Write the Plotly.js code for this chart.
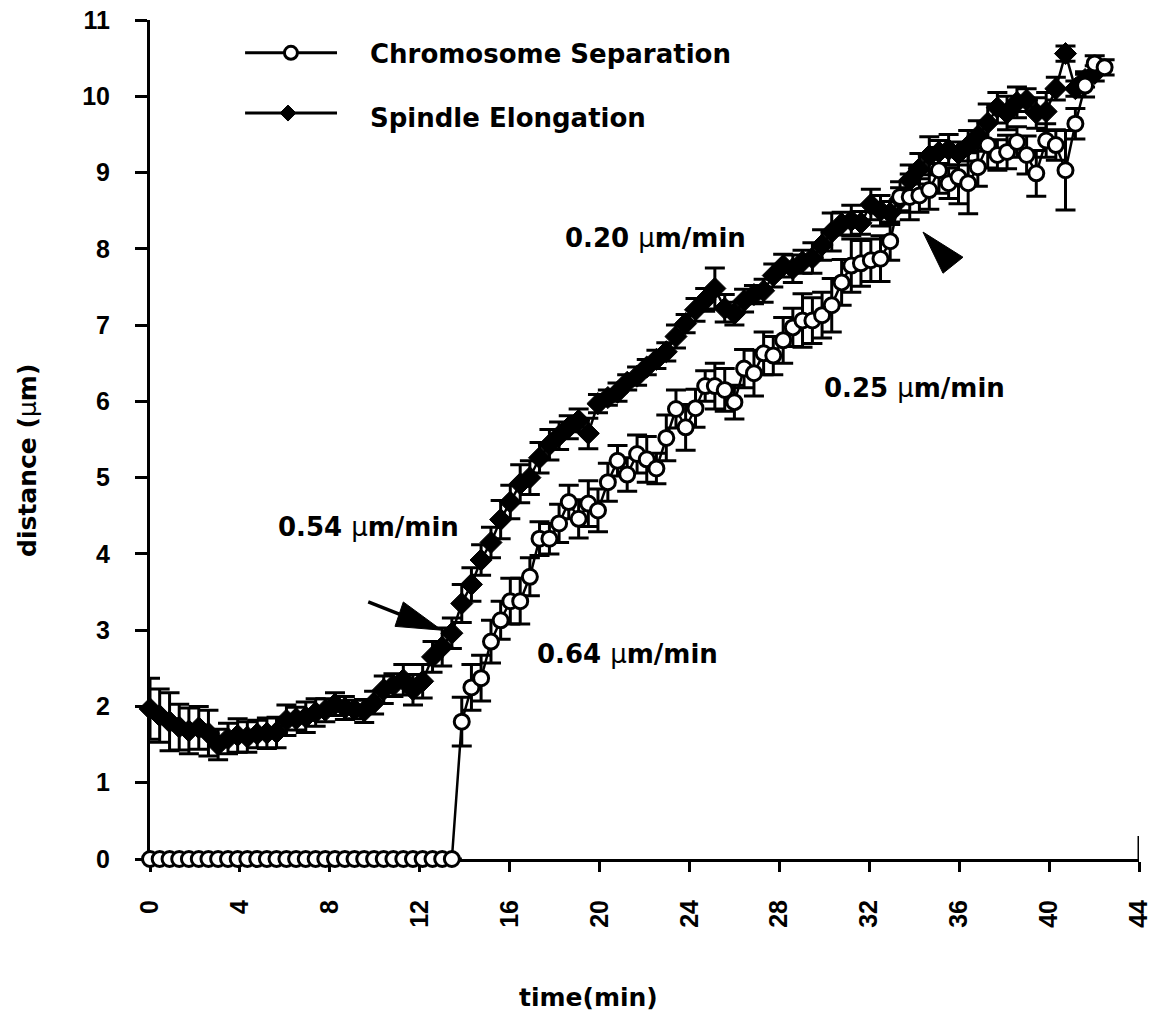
<!DOCTYPE html>
<html>
<head>
<meta charset="utf-8">
<script src="https://cdn.plot.ly/plotly-3.0.1.min.js"></script>
<style>html,body{margin:0;padding:0;background:#fff;}#chart{width:1156px;height:1016px;}</style>
</head>
<body>
<div id="chart"></div>
<script>
// time (min) of each frame
const time = [0,0.43,0.87,1.30,1.73,2.17,2.60,3.03,3.47,3.90,4.33,4.77,5.20,5.63,6.07,6.50,6.93,7.37,7.80,8.23,
  8.67,9.10,9.53,9.97,10.40,10.83,11.27,11.70,12.13,12.57,13.00,13.43,13.87,14.30,14.73,15.17,15.60,16.03,16.47,16.90,
  17.33,17.77,18.20,18.63,19.07,19.50,19.93,20.37,20.80,21.23,21.67,22.10,22.53,22.97,23.40,23.83,24.27,24.70,25.13,25.57,
  26.00,26.43,26.87,27.30,27.73,28.17,28.60,29.03,29.47,29.90,30.33,30.77,31.20,31.63,32.07,32.50,32.93,33.37,33.80,34.23,
  34.67,35.10,35.53,35.97,36.40,36.83,37.27,37.70,38.13,38.57,39.00,39.43,39.87,40.30,40.73,41.17,41.60,42.03,42.47];

// Chromosome separation (um)
const chromSep = [0,0,0,0,0,0,0,0,0,0,0,0,0,0,0,0,0,0,0,0,0,0,0,0,0,0,0,0,0,0,0,0,
  1.80,2.25,2.37,2.85,3.13,3.38,3.38,3.70,4.20,4.20,4.40,4.68,4.46,4.66,4.57,4.94,5.22,5.04,
  5.31,5.24,5.12,5.52,5.90,5.66,5.91,6.20,6.20,6.15,5.99,6.43,6.37,6.63,6.60,6.80,6.97,7.06,
  7.06,7.13,7.26,7.56,7.78,7.81,7.85,7.87,8.10,8.68,8.68,8.70,8.77,9.03,8.86,8.94,8.86,9.07,
  9.36,9.23,9.27,9.40,9.23,8.99,9.42,9.36,9.03,9.64,10.14,10.43,10.38];
const chromErr = [0,0,0,0,0,0,0,0,0,0,0,0,0,0,0,0,0,0,0,0,0,0,0,0,0,0,0,0,0,0,0,0,
  0.32,0.30,0.30,0.28,0.25,0.30,0.30,0.25,0.22,0.20,0.25,0.22,0.25,0.30,0.28,0.25,0.20,0.22,
  0.25,0.30,0.20,0.30,0.25,0.30,0.25,0.20,0.30,0.28,0.22,0.25,0.30,0.28,0.25,0.30,0.25,0.35,
  0.30,0.30,0.35,0.30,0.35,0.30,0.28,0.30,0.25,0.20,0.30,0.22,0.25,0.30,0.20,0.35,0.40,0.25,
  0.30,0.20,0.22,0.20,0.25,0.30,0.22,0.20,0.52,0.20,0.15,0.10,0.10];

// Spindle elongation (um)
const spindle = [1.97,1.88,1.80,1.73,1.68,1.72,1.65,1.50,1.58,1.62,1.60,1.64,1.65,1.66,1.82,1.84,1.86,1.92,1.95,2.03,
  1.98,1.96,1.94,2.05,2.22,2.28,2.35,2.22,2.33,2.65,2.78,2.96,3.35,3.60,3.92,4.15,4.45,4.68,4.92,5.00,
  5.26,5.43,5.55,5.66,5.75,5.58,5.97,6.05,6.12,6.25,6.33,6.45,6.55,6.65,6.85,7.02,7.20,7.33,7.48,7.22,
  7.15,7.32,7.40,7.45,7.65,7.78,7.74,7.83,7.88,8.05,8.22,8.33,8.37,8.34,8.58,8.50,8.47,8.65,8.90,9.05,
  9.22,9.27,9.30,9.25,9.35,9.48,9.65,9.85,9.78,9.92,9.95,9.78,9.80,10.10,10.56,10.10,10.22,10.30];
const spindleErr = [0.40,0.35,0.38,0.30,0.30,0.28,0.30,0.20,0.20,0.22,0.20,0.18,0.20,0.20,0.20,0.15,0.20,0.18,0.15,0.15,
  0.15,0.12,0.15,0.15,0.18,0.15,0.20,0.20,0.22,0.20,0.25,0.20,0.25,0.22,0.20,0.20,0.25,0.22,0.25,0.22,
  0.20,0.20,0.18,0.15,0.15,0.20,0.12,0.10,0.12,0.10,0.12,0.10,0.12,0.12,0.15,0.12,0.15,0.15,0.27,0.18,
  0.15,0.15,0.12,0.15,0.15,0.15,0.18,0.15,0.20,0.20,0.25,0.15,0.20,0.15,0.20,0.20,0.15,0.15,0.20,0.20,
  0.25,0.15,0.20,0.15,0.20,0.20,0.25,0.20,0.22,0.20,0.15,0.20,0.25,0.15,0.10,0.10,0.10,0.10];
const spindleTime = time.slice(0, spindle.length);

const seriesNames = ['Chromosome Separation', 'Spindle Elongation'];
const MU = '<span style="font-weight:normal">μ</span>';
const rateLabels = ['0.20 ' + MU + 'm/min', '0.25 ' + MU + 'm/min', '0.54 ' + MU + 'm/min', '0.64 ' + MU + 'm/min'];
const xTicks = [0,4,8,12,16,20,24,28,32,36,40,44];
const yTicks = [0,1,2,3,4,5,6,7,8,9,10,11];

const BOLD = {family: 'DejaVu Sans', size: 25, color: '#000', weight: 700};
const TICKF = {family: 'Liberation Sans, Arial', size: 25, color: '#000', weight: 700};

const traces = [
  {
    x: spindleTime, y: spindle, name: seriesNames[1], type: 'scatter', mode: 'lines+markers',
    line: {color: '#000', width: 2.5},
    marker: {symbol: 'diamond', size: 17, color: '#000', line: {color: '#000', width: 1}},
    error_y: {type: 'data', array: spindleErr, visible: true, color: '#000', thickness: 3, width: 10},
    cliponaxis: false, showlegend: false
  },
  {
    x: time, y: chromSep, name: seriesNames[0], type: 'scatter', mode: 'lines+markers',
    line: {color: '#000', width: 2.5},
    marker: {symbol: 'circle', size: 15, color: '#fff', line: {color: '#000', width: 3}},
    error_y: {type: 'data', array: chromErr, visible: true, color: '#000', thickness: 3, width: 10},
    cliponaxis: false, showlegend: false
  }
];

const layout = {
  width: 1156, height: 1016,
  margin: {l: 150, r: 17, t: 20, b: 157},
  paper_bgcolor: '#fff', plot_bgcolor: '#fff',
  showlegend: false,
  xaxis: {
    range: [0, 44], tickvals: xTicks, ticktext: xTicks.map(String), tickangle: -90,
    ticks: 'outside', ticklen: 10, tickwidth: 3, tickcolor: '#000', layer: 'below traces',
    showline: true, linecolor: '#000', linewidth: 3, showgrid: false, zeroline: false,
    tickfont: TICKF, ticklabelstandoff: 18
  },
  yaxis: {
    range: [0, 11], tickvals: yTicks, ticktext: yTicks.map(String),
    ticks: 'outside', ticklen: 12, tickwidth: 3, tickcolor: '#000', layer: 'below traces',
    showline: true, linecolor: '#000', linewidth: 3, showgrid: false, zeroline: false,
    tickfont: TICKF, ticklabelstandoff: 20
  },
  annotations: [
    {text: 'time(min)', xref: 'paper', yref: 'paper', x: 0.443, y: -0.165, xanchor: 'center', yanchor: 'middle', showarrow: false, font: BOLD},
    {text: 'distance (' + MU + 'm)', xref: 'paper', yref: 'paper', x: -0.1234, y: 0.4756, textangle: -90, xanchor: 'center', yanchor: 'middle', showarrow: false, font: BOLD},
    {text: rateLabels[0], x: 22.51, y: 8.14, xanchor: 'center', yanchor: 'middle', showarrow: false, font: Object.assign({}, BOLD, {size: 26})},
    {text: rateLabels[1], x: 33.99, y: 6.18, xanchor: 'center', yanchor: 'middle', showarrow: false, font: Object.assign({}, BOLD, {size: 26})},
    {text: rateLabels[2], x: 9.74, y: 4.35, xanchor: 'center', yanchor: 'middle', showarrow: false, font: Object.assign({}, BOLD, {size: 26})},
    {text: rateLabels[3], x: 21.24, y: 2.69, xanchor: 'center', yanchor: 'middle', showarrow: false, font: Object.assign({}, BOLD, {size: 26})},
    {text: seriesNames[0], x: 9.70, y: 10.55, xanchor: 'left', yanchor: 'middle', showarrow: false, font: Object.assign({}, BOLD, {size: 26})},
    {text: seriesNames[1], x: 9.70, y: 9.72, xanchor: 'left', yanchor: 'middle', showarrow: false, font: Object.assign({}, BOLD, {size: 26})}
  ],
  shapes: [
    // legend samples
    {type: 'line', x0: 4.23, x1: 8.32, y0: 10.57, y1: 10.57, line: {color: '#000', width: 3}},
    {type: 'circle', xsizemode: 'pixel', ysizemode: 'pixel', xanchor: 6.27, yanchor: 10.57, x0: -6.5, x1: 6.5, y0: -6.5, y1: 6.5,
     fillcolor: '#fff', line: {color: '#000', width: 3}},
    {type: 'line', x0: 4.23, x1: 8.32, y0: 9.78, y1: 9.78, line: {color: '#000', width: 3}},
    {type: 'path', xsizemode: 'pixel', ysizemode: 'pixel', xanchor: 6.14, yanchor: 9.78, path: 'M0,-8L8,0L0,8L-8,0Z',
     fillcolor: '#000', line: {color: '#000', width: 1}},
    // arrow near 0.54
    {type: 'line', x0: 9.71, y0: 3.37, x1: 11.09, y1: 3.21, line: {color: '#000', width: 3.5}},
    {type: 'path', path: 'M12.98,3.00L11.27,3.37L10.90,3.05Z', fillcolor: '#000', line: {color: '#000', width: 1}},
    // arrowhead near 0.20
    {type: 'path', path: 'M34.39,8.22L36.17,7.89L35.28,7.68Z', fillcolor: '#000', line: {color: '#000', width: 1}},
    // tick mark crossing axis at right end
    {type: 'line', x0: 44, x1: 44, y0: 0, y1: 0.3, line: {color: '#000', width: 3}}
  ]
};

Plotly.newPlot('chart', traces, layout, {displayModeBar: false, staticPlot: true});
</script>
</body>
</html>
